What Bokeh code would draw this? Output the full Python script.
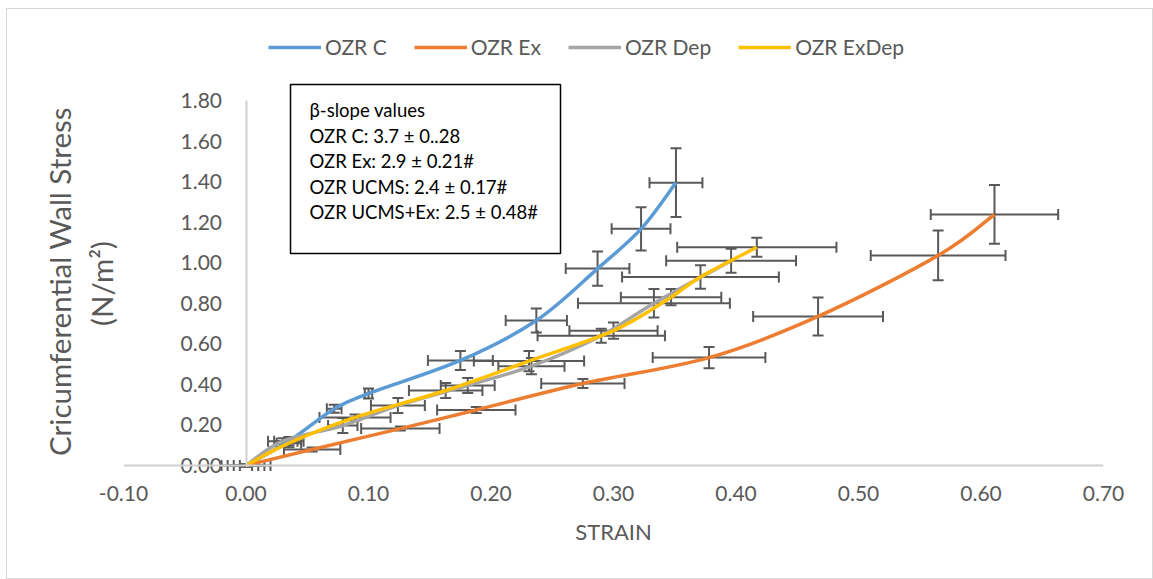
import numpy as np
from bokeh.plotting import figure
from bokeh.models import (ColumnDataSource, Whisker, TeeHead, Legend, LegendItem, Title, Span,
                          FixedTicker, NumeralTickFormatter, Range1d, BoxAnnotation, Label)
from bokeh.embed import file_html
from bokeh.resources import INLINE

# ---------------- data ----------------
x_ticks = [-0.1, 0.0, 0.1, 0.2, 0.3, 0.4, 0.5, 0.6, 0.7]
y_ticks = [0.0, 0.2, 0.4, 0.6, 0.8, 1.0, 1.2, 1.4, 1.6, 1.8]

series_names = ["OZR C", "OZR Ex", "OZR Dep", "OZR ExDep"]
series_colors = ["#5B9BD5", "#ED7D31", "#A5A5A5", "#FFC000"]

c_strain = [0.0, 0.035, 0.072, 0.100, 0.175, 0.237, 0.287, 0.3225, 0.351]
c_stress = [0.0, 0.12, 0.28, 0.355, 0.518, 0.715, 0.971, 1.167, 1.395]
c_strain_err = [0.005, 0.012, 0.006, 0.003, 0.0265, 0.025, 0.026, 0.024, 0.0216]
c_stress_err = [0.005, 0.02, 0.02, 0.025, 0.047, 0.059, 0.084, 0.107, 0.17]

ex_strain = [0.0, 0.054, 0.126, 0.188, 0.275, 0.378, 0.467, 0.565, 0.611]
ex_stress = [0.0, 0.079, 0.182, 0.274, 0.404, 0.532, 0.735, 1.036, 1.238]
ex_strain_err = [0.02, 0.023, 0.032, 0.032, 0.034, 0.046, 0.053, 0.055, 0.052]
ex_stress_err = [0.005, 0.01, 0.01, 0.015, 0.022, 0.052, 0.094, 0.123, 0.145]

dep_strain = [0.0, 0.03, 0.079, 0.124, 0.181, 0.233, 0.29, 0.333, 0.396]
dep_stress = [0.0, 0.12, 0.197, 0.296, 0.395, 0.49, 0.64, 0.80, 1.01]
dep_strain_err = [0.01, 0.012, 0.012, 0.022, 0.022, 0.027, 0.052, 0.062, 0.053]
dep_stress_err = [0.005, 0.015, 0.037, 0.037, 0.037, 0.04, 0.035, 0.07, 0.059]

exdep_strain = [0.0, 0.035, 0.089, 0.163, 0.231, 0.30, 0.347, 0.371, 0.417]
exdep_stress = [0.0, 0.11, 0.237, 0.37, 0.515, 0.665, 0.83, 0.93, 1.076]
exdep_strain_err = [0.015, 0.01, 0.029, 0.030, 0.045, 0.036, 0.041, 0.064, 0.065]
exdep_stress_err = [0.005, 0.02, 0.015, 0.037, 0.05, 0.04, 0.04, 0.058, 0.047]

box_lines = ["β-slope values",
             "OZR C: 3.7 ± 0..28",
             "OZR Ex: 2.9 ± 0.21#",
             "OZR UCMS: 2.4 ± 0.17#",
             "OZR UCMS+Ex: 2.5 ± 0.48#"]

x_title = "STRAIN"
y_title_lines = ["Cricumferential Wall Stress", "(N/m²)"]

series = [
    (c_strain, c_stress, c_strain_err, c_stress_err),
    (ex_strain, ex_stress, ex_strain_err, ex_stress_err),
    (dep_strain, dep_stress, dep_strain_err, dep_stress_err),
    (exdep_strain, exdep_stress, exdep_strain_err, exdep_stress_err),
]

FONT = "Lato"
GREY_TXT = "#595959"
BAR = "#595959"
AXIS_GREY = "#d0d0d0"

# ---------------- geometry ----------------
W, H = 1153, 579
FL, FR, FT, FB = 123, 1103, 20, 479      # plot frame in pixels
Y0_PX, Y18_PX = 465, 100                  # pixel rows of stress 0 and 1.8
px_per_y = (Y0_PX - Y18_PX) / 1.8
px_per_x = (FR - FL) / 0.8

p = figure(width=W, height=H, output_backend="svg", toolbar_location=None,
           x_range=Range1d(-0.1, 0.7),
           y_range=Range1d(-(FB - Y0_PX) / px_per_y, (Y0_PX - FT) / px_per_y),
           min_border_left=FL, min_border_right=W - FR,
           min_border_top=FT, min_border_bottom=H - FB)
p.outline_line_color = None
p.xgrid.visible = False
p.ygrid.visible = False
p.background_fill_color = "white"
p.border_fill_color = "white"
# light chart-area border like the spreadsheet chart
p.stylesheets = [":host::after { content: ''; position: absolute; left: 6px; top: 8px; "
                 "right: 0px; bottom: 0px; border: 1px solid #d9d9d9; "
                 "pointer-events: none; z-index: 10; }"]


def x_at(px):
    return -0.1 + (px - FL) / px_per_x


def y_at(py):
    return (Y0_PX - py) / px_per_y


# x axis (labels below the frame); its visible line is drawn on stress = 0
xa = p.xaxis[0]
xa.ticker = FixedTicker(ticks=x_ticks)
xa.formatter = NumeralTickFormatter(format="0.00")
xa.major_tick_line_color = None
xa.minor_tick_line_color = None
xa.major_tick_out = 0
xa.minor_tick_out = 0
xa.axis_line_color = None
xa.major_label_standoff = 20 - (FB - Y0_PX)
xa.major_label_text_font = FONT
xa.major_label_text_font_size = "21px"
xa.major_label_text_color = GREY_TXT
xa.axis_label = x_title
xa.axis_label_text_font = FONT
xa.axis_label_text_font_size = "22px"
xa.axis_label_text_font_style = "normal"
xa.axis_label_text_color = GREY_TXT
xa.axis_label_standoff = 14
p.add_layout(Span(location=0, dimension="width", line_color=AXIS_GREY, line_width=2))

# y axis crossing at strain = 0
ya = p.yaxis[0]
ya.fixed_location = 0
ya.bounds = (0, 1.8)
ya.ticker = FixedTicker(ticks=y_ticks)
ya.formatter = NumeralTickFormatter(format="0.00")
ya.major_tick_line_color = None
ya.minor_tick_line_color = None
ya.major_tick_out = 0
ya.minor_tick_out = 0
ya.axis_line_color = AXIS_GREY
ya.axis_line_width = 2
ya.major_label_standoff = 24
ya.major_label_text_font = FONT
ya.major_label_text_font_size = "21px"
ya.major_label_text_color = GREY_TXT

# y axis title: two vertical lines in the left panel (inner line first)
y_mid = (Y0_PX + Y18_PX) / 2
for txt, half_len, so in [(y_title_lines[1], 43, 10), (y_title_lines[0], 173, 0)]:
    p.add_layout(Title(text=txt, align="left", offset=FB - (y_mid + half_len),
                       text_font=FONT, text_font_size="29.5px",
                       text_font_style="normal", text_color=GREY_TXT, standoff=so), "left")

# error bars
for (sx, sy, sxe, sye) in series:
    sx = np.array(sx); sy = np.array(sy); sxe = np.array(sxe); sye = np.array(sye)
    src = ColumnDataSource(dict(x=sx, y=sy, xl=sx - sxe, xu=sx + sxe,
                                yl=sy - sye, yu=sy + sye))
    for dim, base, lo, up in [("height", "x", "yl", "yu"), ("width", "y", "xl", "xu")]:
        w = Whisker(source=src, base=base, lower=lo, upper=up, dimension=dim,
                    line_color=BAR, line_width=2,
                    lower_head=TeeHead(size=11, line_color=BAR, line_width=2),
                    upper_head=TeeHead(size=11, line_color=BAR, line_width=2))
        p.add_layout(w)


# smoothed curves (Catmull-Rom -> cubic Bezier through the data points)
def bezier_source(xs, ys):
    xs = np.asarray(xs, float); ys = np.asarray(ys, float)
    n = len(xs)
    xp = np.concatenate([[xs[0]], xs, [xs[-1]]])
    yp = np.concatenate([[ys[0]], ys, [ys[-1]]])
    return ColumnDataSource(dict(
        x0=xs[:-1], y0=ys[:-1], x1=xs[1:], y1=ys[1:],
        cx0=xp[1:n] + (xp[2:n + 1] - xp[0:n - 1]) / 6.0,
        cy0=yp[1:n] + (yp[2:n + 1] - yp[0:n - 1]) / 6.0,
        cx1=xp[2:n + 1] - (xp[3:n + 2] - xp[1:n]) / 6.0,
        cy1=yp[2:n + 1] - (yp[3:n + 2] - yp[1:n]) / 6.0))


items = []
for (sx, sy, _, _), name, col in zip(series, series_names, series_colors):
    r = p.bezier(x0="x0", y0="y0", x1="x1", y1="y1", cx0="cx0", cy0="cy0",
                 cx1="cx1", cy1="cy1", source=bezier_source(sx, sy),
                 line_color=col, line_width=3.5)
    items.append(LegendItem(label=name, renderers=[r], index=0))

legend = Legend(items=items, orientation="horizontal",
                location=(268 - FL, FB - 59),
                glyph_width=53, glyph_height=20, label_standoff=4, spacing=27,
                padding=0, margin=0, border_line_color=None,
                background_fill_alpha=0,
                label_text_font=FONT, label_text_font_size="21px",
                label_text_color=GREY_TXT)
p.add_layout(legend)

# annotation text box
p.add_layout(BoxAnnotation(left=x_at(290), right=x_at(560), top=y_at(84), bottom=y_at(253),
                           fill_color="white", fill_alpha=1.0,
                           line_color="black", line_width=1.5, line_alpha=1.0))
for i, t in enumerate(box_lines):
    p.add_layout(Label(x=x_at(309), y=y_at(109.5 + 25.6 * i), text=t,
                       text_align="left", text_baseline="middle",
                       text_font=FONT, text_font_size="18.5px", text_color="black"))

open("out.html", "w").write(file_html(p, INLINE))
